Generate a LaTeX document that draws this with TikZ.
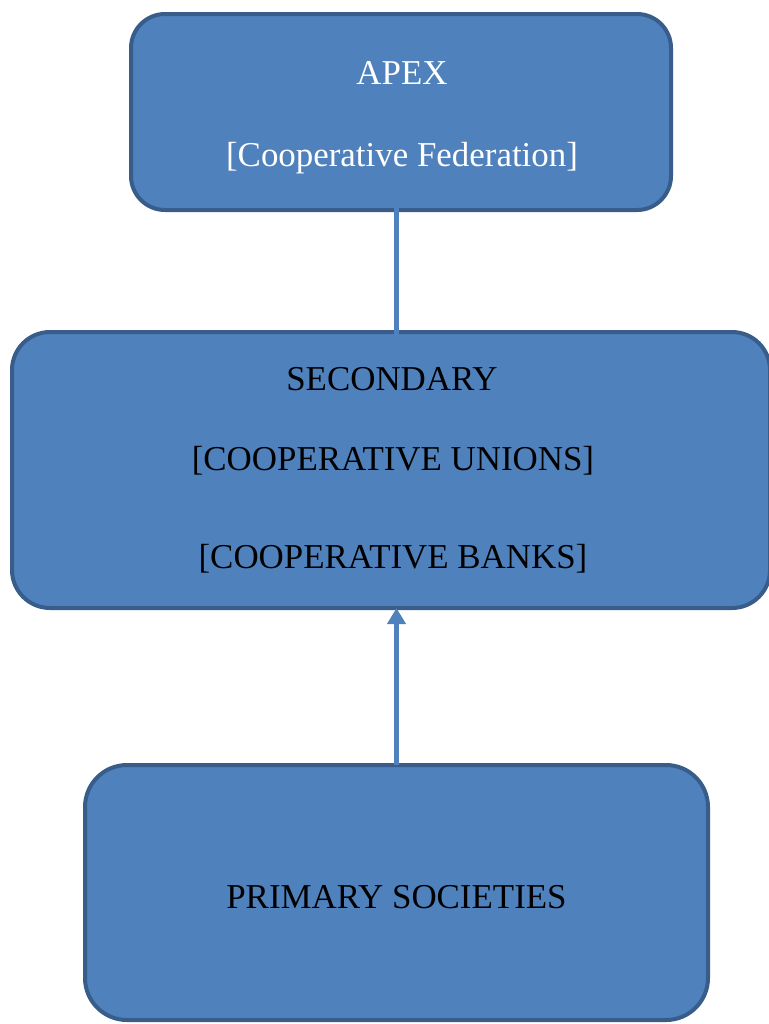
\documentclass[tikz,border=0pt]{standalone}
\usepackage{fontspec}
\setmainfont{Liberation Serif}
\usetikzlibrary{arrows.meta,calc}
\definecolor{boxfill}{HTML}{4F81BD}
\definecolor{boxline}{HTML}{385D8A}
\tikzset{
  levelbox/.style={draw=boxline, fill=boxfill, line width=2pt, inner sep=0pt, outer sep=0pt},
  conn/.style={draw=boxfill, line width=2.5pt, -{Triangle[width=9pt,length=8pt]}},
  lbl/.style={anchor=base, inner sep=0pt, font=\fontsize{17.45}{20}\selectfont},
}
\begin{document}
\begin{tikzpicture}[x=0.5pt,y=-0.5pt]
\useasboundingbox (0,0) rectangle (769,1024);
% boxes
\node[levelbox, rounded corners=17pt, minimum width=270pt, minimum height=98pt] (apex) at (401,112) {};
\node[levelbox, rounded corners=19pt, minimum width=379pt, minimum height=138pt] (sec) at (391,470) {};
\node[levelbox, rounded corners=21pt, minimum width=311.5pt, minimum height=127.5pt] (prim) at (396.5,892.5) {};
% connectors
\coordinate (s1) at ($(prim.north |- sec.north)+(0,13)$);
\coordinate (e1) at ($(prim.north |- apex.center)+(0,55)$);
\draw[conn] (s1) -- (e1);
\draw[conn] (prim.north) -- (prim.north |- sec.south);
% texts
\node[lbl, text=white] (t1) at (402,84) {APEX};
\node[lbl, text=white] (t2) at (402,166) {[Cooperative Federation]};
\node[lbl] (t3) at (392,390) {SECONDARY};
\node[lbl] (t4) at (393,470) {[COOPERATIVE UNIONS]};
\node[lbl] (t5) at (393,568) {[COOPERATIVE BANKS]};
\node[lbl] (t6) at (396.5,908) {PRIMARY SOCIETIES};
\end{tikzpicture}
\end{document}
